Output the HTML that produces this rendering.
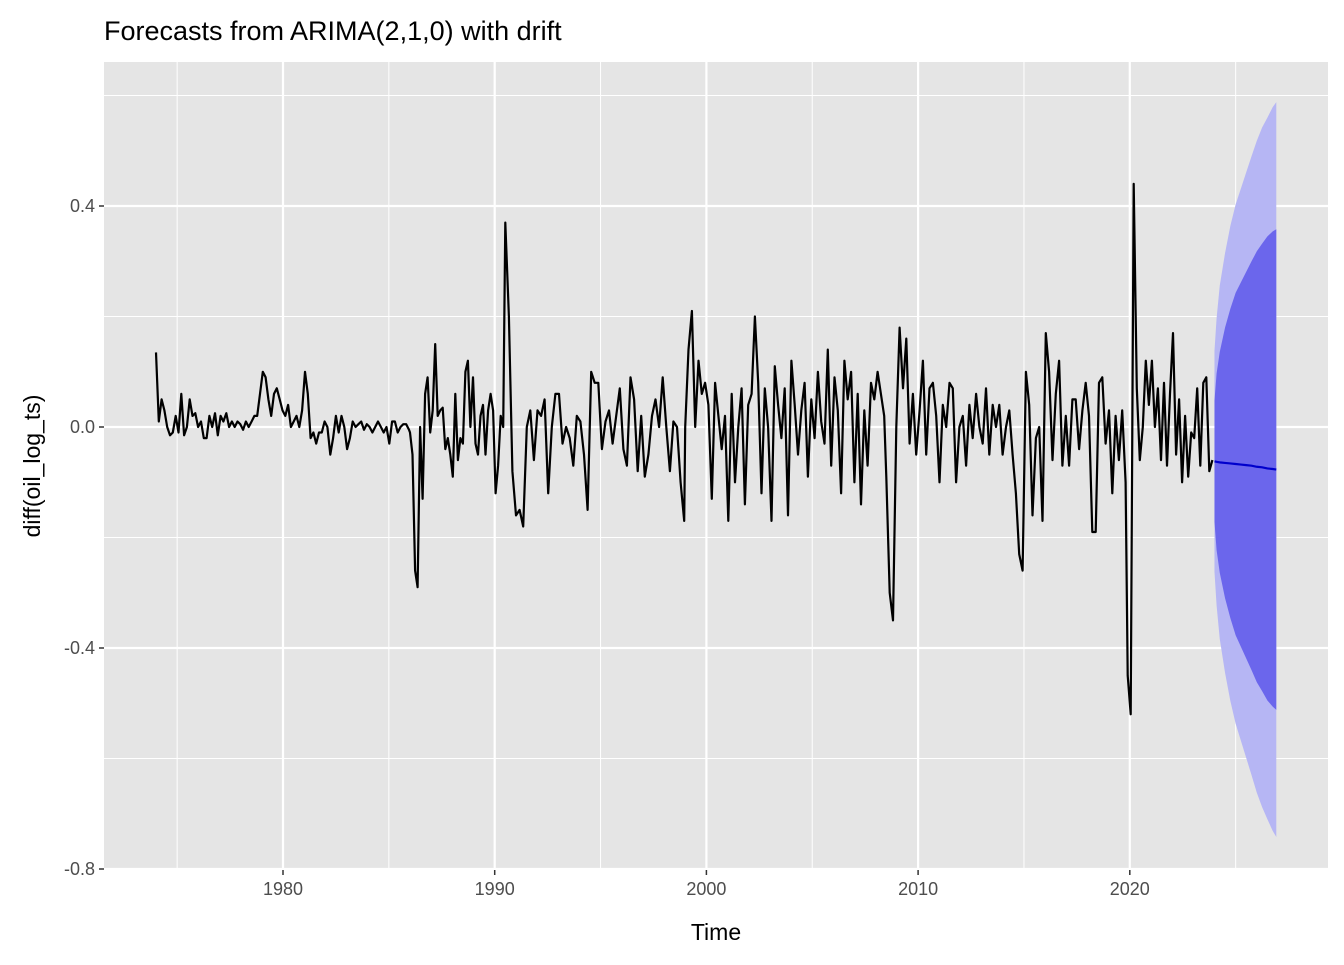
<!DOCTYPE html>
<html><head><meta charset="utf-8"><style>
body{margin:0;background:#fff;}
svg text{font-family:"Liberation Sans",Arial,sans-serif;}
</style></head><body>
<svg id="chart" width="1344" height="960" xmlns="http://www.w3.org/2000/svg">
<rect width="1344" height="960" fill="#fff"/>
<text x="104" y="40" font-size="27" fill="#000">Forecasts from ARIMA(2,1,0) with drift</text>
<g id="panel"></g>
<text x="716" y="940" font-size="23" text-anchor="middle">Time</text>
<text transform="translate(40,466) rotate(-90)" font-size="23" text-anchor="middle">diff(oil_log_ts)</text>
</svg>
<script>
const segA=[0.135,0.01,0.05,0.03,0.0,-0.015,-0.01,0.02,-0.01,0.06,-0.015,0.0,0.05,0.02,0.025,0.0,0.01,-0.02,-0.02,0.02,0.0,0.025,-0.015,0.02,0.01,0.025,0.0,0.01,0.0,0.01,0.005,-0.005,0.01,0.0,0.01,0.02,0.02,0.06,0.1,0.09,0.05,0.02,0.06,0.07,0.05,0.03,0.02,0.04,0.0,0.01,0.02,0.0,0.03,0.1,0.06,-0.02,-0.01,-0.03,-0.01,-0.01,0.01,0.0,-0.05,-0.02,0.02,-0.01,0.02,0.0,-0.04,-0.02,0.01,0.0,0.005,0.01,-0.005,0.005,0.0,-0.01,0.0,0.01,0.0,-0.01,0.0,-0.03,0.01,0.01,-0.01,0.0,0.005,0.005,-0.005];
const segB=[-0.01,-0.05,-0.26,-0.29,0.0,-0.13,0.06,0.09,-0.01,0.03,0.15,0.02,0.03,0.035,-0.04,-0.02,-0.05,-0.09,0.06,-0.06,-0.02,-0.03,0.1,0.12,0.0,0.09,-0.03,-0.05,0.02,0.04,-0.05,0.03,0.06,0.03,-0.12,-0.07,0.02,0.0];
const segC=[0.37,0.2,-0.08,-0.16,-0.15,-0.18,0.0,0.03,-0.06,0.03,0.02,0.05,-0.12,0.0,0.06,0.06,-0.03,0.0,-0.02,-0.07,0.02,0.01,-0.05,-0.15,0.1,0.08,0.08,-0.04,0.01,0.03,-0.03,0.02,0.07,-0.04,-0.07,0.09,0.05,-0.08,0.02,-0.09,-0.05,0.02,0.05,0.0,0.09,0.0,-0.08,0.01,0.0,-0.1,-0.17];
const segD=[0.0,0.14,0.21,0.0,0.12,0.06,0.08,0.04,-0.13,0.08,0.02,-0.04,0.02,-0.17,0.06,-0.1,0.0,0.07,-0.14,0.04,0.06,0.2,0.08,-0.12,0.07,0.0,-0.17,0.11,0.04,-0.02,0.07,-0.16,0.12,0.04,-0.05,0.03,0.08,-0.09,0.05,-0.02,0.1,0.01,-0.03,0.14,-0.07,0.09,0.03,-0.12,0.12,0.05,0.1,-0.1,0.06,-0.14,0.03,-0.07,0.08,0.05,0.1,0.06,0.02];
const segE=[-0.09,-0.3,-0.35,0.0,0.18,0.07,0.16,-0.03,0.06,-0.05,0.03,0.12,-0.05,0.07,0.08,0.02,-0.1,0.04,0.0,0.08,0.07,-0.1,0.0,0.02,-0.07,0.04,-0.02,0.06,0.0,-0.03,0.07,-0.05,0.04,0.0,0.04,-0.05,0.0,0.03,-0.05,-0.12,-0.23,-0.26,0.1,0.04,-0.16,-0.02,0.0,-0.17,0.17,0.1,-0.06,0.06,0.12,-0.07,0.02,-0.07,0.05,0.05,-0.04,0.03,0.08,0.02,-0.19,-0.19,0.08,0.09,-0.03,0.03,-0.12,0.02,-0.06,0.03,-0.1];
const segF=[-0.45,-0.52,0.44,0.07,-0.06,0.0,0.12,0.04,0.12,0.0,0.07,-0.06,0.08,-0.07,0.06,0.17,-0.05,0.05,-0.1,0.02,-0.09,-0.01,-0.02,0.07,-0.07,0.08,0.09,-0.08,-0.06];
const segStart=[1974.0,1986.0,1990.5,1999.0,2008.5,2019.9];
const segEnd=[1985.95,1990.4,1998.95,2008.4,2019.8,2023.9];
const fcTimes=[2024.0,2024.1,2024.25,2024.5,2024.75,2025,2025.25,2025.5,2025.75,2026,2026.25,2026.5,2026.75,2026.92];
const fcMean=[-0.062,-0.063,-0.064,-0.065,-0.066,-0.067,-0.068,-0.069,-0.070,-0.072,-0.073,-0.075,-0.076,-0.077];
const fcW80=[0.11,0.16,0.2,0.245,0.28,0.31,0.33,0.35,0.37,0.39,0.405,0.42,0.43,0.435];
const fcW95=[0.2,0.26,0.32,0.38,0.43,0.47,0.5,0.53,0.56,0.59,0.615,0.635,0.655,0.665];
const xTicks=[1980,1990,2000,2010,2020];
const yTicks=[0.4,0.0,-0.4,-0.8];
const yTickLabels=["0.4","0.0","-0.4","-0.8"];

const L=104,R=1328,T=62,B=870;
const xs=t=>283+(t-1980)*21.17;
const ys=v=>427-v*552.5;
const NS="http://www.w3.org/2000/svg";
const svg=document.getElementById('chart'), panel=document.getElementById('panel');
function mk(tag,attrs,parent){const e=document.createElementNS(NS,tag);for(const k in attrs)e.setAttribute(k,attrs[k]);(parent||panel).appendChild(e);return e;}
const bg=mk('rect',{x:L,y:T,width:R-L,height:B-T,fill:'#e5e5e5'});


for(let i=0;i<xTicks.length+1;i++){const t=xTicks[0]-5+i*10;const g=mk('line',{x1:xs(t),x2:xs(t),y1:T,y2:B,stroke:'#fff','stroke-width':1});

}
for(let i=0;i<yTicks.length;i++){const v=yTicks[i]+0.2;const g=mk('line',{x1:L,x2:R,y1:ys(v),y2:ys(v),stroke:'#fff','stroke-width':1});

}
xTicks.forEach(t=>{const g=mk('line',{x1:xs(t),x2:xs(t),y1:T,y2:B,stroke:'#fff','stroke-width':2.2});


const k=mk('line',{x1:xs(t),x2:xs(t),y1:B,y2:B+5,stroke:'#333','stroke-width':1.5},svg);


const tx=mk('text',{x:xs(t),y:B+25,'font-size':18,fill:'#4d4d4d','text-anchor':'middle'},svg);tx.textContent=t;

});
yTicks.forEach((v,i)=>{const g=mk('line',{x1:L,x2:R,y1:ys(v),y2:ys(v),stroke:'#fff','stroke-width':2.2});


const k=mk('line',{x1:L-5,x2:L,y1:ys(v),y2:ys(v),stroke:'#333','stroke-width':1.5},svg);


const tx=mk('text',{x:L-9,y:ys(v)+6,'font-size':18,fill:'#4d4d4d','text-anchor':'end'},svg);tx.textContent=yTickLabels[i];

});
function band(w){let up=fcTimes.map((t,i)=>xs(t)+','+ys(fcMean[i]+w[i]));let lo=fcTimes.map((t,i)=>xs(t)+','+ys(fcMean[i]-w[i])).reverse();return up.concat(lo).join(' ');}
const b95=mk('polygon',{points:band(fcW95),fill:'#b6b6f4'});


const b80=mk('polygon',{points:band(fcW80),fill:'#6b66ec'});


const segs=[segA,segB,segC,segD,segE,segF];let pts=[];
segs.forEach((s,j)=>{s.forEach((v,i)=>{const t=segStart[j]+(segEnd[j]-segStart[j])*i/(s.length-1);pts.push(xs(t).toFixed(1)+','+ys(v).toFixed(1));});});
const ln=mk('polyline',{points:pts.join(' '),fill:'none',stroke:'#000','stroke-width':2.2,'stroke-linejoin':'round'});


const fm=mk('polyline',{points:fcTimes.map((t,i)=>xs(t)+','+ys(fcMean[i])).join(' '),fill:'none',stroke:'#0000cc','stroke-width':2.2});


</script>
</body></html>
